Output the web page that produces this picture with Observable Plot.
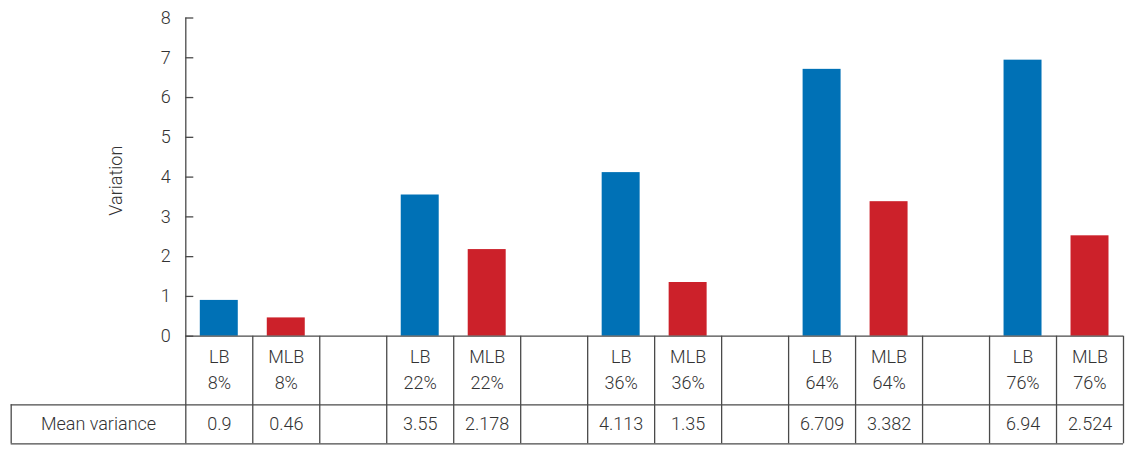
<!DOCTYPE html>
<html>
<head>
<meta charset="utf-8">
<script src="https://cdn.jsdelivr.net/npm/d3@7"></script>
<script src="https://cdn.jsdelivr.net/npm/@observablehq/plot@0.6"></script>
<style>
  html, body { margin: 0; padding: 0; background: #fff; }
  #chart svg { display: block; }
</style>
</head>
<body>
<div id="chart"></div>
<script>
// ---- data ----
const categories = ["8%", "22%", "36%", "64%", "76%"];
const series = ["LB", "MLB"];
const lbValues = [0.9, 3.55, 4.113, 6.709, 6.94];
const mlbValues = [0.46, 2.178, 1.35, 3.382, 2.524];
const rowLabel = "Mean variance";
const yLabel = "Variation";
const yTicks = [0, 1, 2, 3, 4, 5, 6, 7, 8];

// ---- layout (table cells: LB, MLB, gap per group; last gap dropped) ----
const nCells = categories.length * 3 - 1;
const rows = categories.flatMap((c, g) => [
  {series: series[0], cat: c, value: lbValues[g], cell: 3 * g},
  {series: series[1], cat: c, value: mlbValues[g], cell: 3 * g + 1}
]);
const yMin = -2.705;      // bottom of table
const yMid = -1.724;      // line between header row and value row
const xLeft = -2.607;     // left edge of "Mean variance" cell
const lineColor = "#4a4a4a";
const textColor = "#333";

const chart = Plot.plot({
  width: 1136,
  height: 457,
  marginLeft: 185.3,
  marginRight: 13,
  marginTop: 17.5,
  marginBottom: 13.7,
  x: {domain: [0, nCells], axis: null},
  y: {domain: [yMin, 8], axis: null},
  color: {domain: series, range: ["#0071b6", "#cc212a"]},
  style: {fontFamily: "Roboto, 'Liberation Sans', sans-serif", fontSize: "18px", color: textColor, background: "#fff", fontWeight: 300},
  marks: [
    // bars
    Plot.rect(rows, {x1: "cell", x2: d => d.cell + 1, y1: 0, y2: "value", fill: "series", insetLeft: 14.5, insetRight: 14.5}),
    // y axis line (continues as table's left border)
    Plot.ruleX([0], {y1: yMin, y2: 8, stroke: lineColor, strokeWidth: 1.3}),
    // y ticks pointing inward
    Plot.ruleY(yTicks, {y: d => d, x1: 0, x2: 8 / 66.98, stroke: lineColor, strokeWidth: 1.3}),
    Plot.text(yTicks, {x: 0, y: d => d, dx: -15, textAnchor: "end", fill: textColor, text: d => String(d)}),
    Plot.text([yLabel], {x: -1.035, y: 3.91, rotate: -90, fill: textColor, text: d => d}),
    // table grid
    Plot.ruleX(d3.range(1, nCells + 1), {x: d => d, y1: yMin, y2: 0, stroke: lineColor, strokeWidth: 1.3}),
    Plot.ruleX([xLeft], {x: d => d, y1: yMin, y2: yMid, stroke: lineColor, strokeWidth: 1.3}),
    Plot.ruleY([0], {y: d => d, x1: 0, x2: nCells, stroke: lineColor, strokeWidth: 1.3}),
    Plot.ruleY([yMid, yMin], {y: d => d, x1: xLeft, x2: nCells, stroke: lineColor, strokeWidth: 1.3}),
    // table text
    Plot.text(rows, {x: d => d.cell + 0.5, y: -0.528, text: "series", fill: textColor}),
    Plot.text(rows, {x: d => d.cell + 0.5, y: -1.189, text: "cat", fill: textColor}),
    Plot.text(rows, {x: d => d.cell + 0.5, y: -2.212, text: d => String(d.value), fill: textColor}),
    Plot.text([rowLabel], {x: xLeft / 2, y: -2.212, text: d => d, fill: textColor})
  ]
});
document.getElementById("chart").appendChild(chart);
</script>
</body>
</html>
